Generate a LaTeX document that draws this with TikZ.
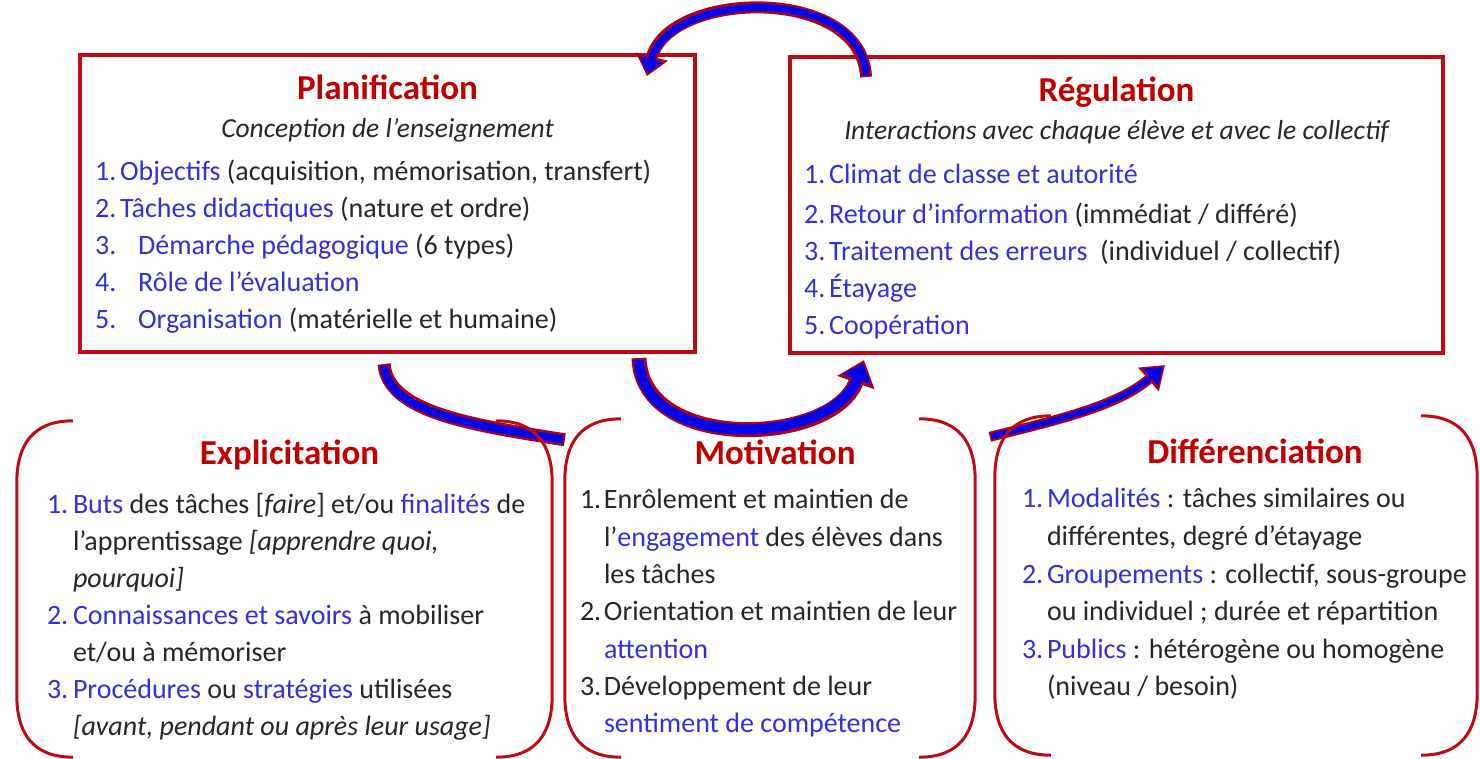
\documentclass[tikz,border=0pt]{standalone}
\usepackage{fontspec}
\setmainfont{Carlito}
\usetikzlibrary{calc,arrows.meta}
\definecolor{titred}{RGB}{192,0,0}
\definecolor{boxred}{RGB}{190,10,20}
\definecolor{itemblue}{RGB}{48,48,224}
\definecolor{textgray}{RGB}{38,38,38}
\definecolor{arrowblue}{RGB}{0,0,235}
\definecolor{arrowred}{RGB}{170,0,30}
\newcommand{\bl}[1]{\textcolor{itemblue}{#1}}
\newcommand{\bracketsbox}[1]{%
  \draw[bracket] ($(#1.north west)+(56,0)$) .. controls +(-40,0) and +(0,-38) .. ($(#1.north west)+(0,62)$)
    -- ($(#1.south west)+(0,-62)$) .. controls +(0,38) and +(-40,0) .. ($(#1.south west)+(56,0)$);
  \draw[bracket] ($(#1.north east)+(-56,0)$) .. controls +(40,0) and +(0,-38) .. ($(#1.north east)+(0,62)$)
    -- ($(#1.south east)+(0,-62)$) .. controls +(0,38) and +(40,0) .. ($(#1.south east)+(-56,0)$);}
\begin{document}
\begin{tikzpicture}[x=1pt,y=-1pt]
      \tikzstyle{main box}=[draw=boxred,line width=4pt,inner sep=0]
      \tikzstyle{free box}=[inner sep=0]
      \tikzstyle{title}=[anchor=base,inner sep=0,text=titred,font=\fontsize{35}{42}\selectfont\bfseries]
      \tikzstyle{subtitle}=[anchor=base,inner sep=0,text=textgray,font=\fontsize{27.5}{33}\selectfont\itshape]
      \tikzstyle{list}=[anchor=base west,inner sep=0,text=textgray,font=\fontsize{28}{37}\selectfont]
      \tikzstyle{bracket}=[draw=boxred,line width=3pt]
      \tikzstyle{arrow out}=[draw=arrowred]
      \tikzstyle{arrow in}=[draw=arrowblue]

      \useasboundingbox (0,0) rectangle (1480,758);

      % upper boxes
      \node(plan)[main box,minimum width=615pt,minimum height=297pt] at (387.5,203.5) {};
      \node[title] at ($(plan.north)+(0,46)$) {Planification};
      \node[subtitle] at ($(plan.north)+(0,84)$) {Conception de l’enseignement};
      \node(plan list)[list] at ($(plan.north west)+(17,127)$) {
        \begin{tabular}[t]{@{}p{25pt}@{}l@{}}
          \bl{1.} & \bl{Objectifs} (acquisition, mémorisation, transfert) \\
          \bl{2.} & \bl{Tâches didactiques} (nature et ordre) \\
          \bl{3.} & \hspace*{18pt}\bl{Démarche pédagogique} (6 types) \\
          \bl{4.} & \hspace*{18pt}\bl{Rôle de l’évaluation} \\
          \bl{5.} & \hspace*{18pt}\bl{Organisation} (matérielle et humaine) \\
        \end{tabular}
      };

      \node(reg)[main box,minimum width=653pt,minimum height=296pt] at (1116.5,205) {};
      \node[title] at ($(reg.north)+(0,46)$) {Régulation};
      \node[subtitle] at ($(reg.north)+(0,84)$) {Interactions avec chaque élève et avec le collectif};
      \node(reg list)[list] at ($(reg.north west)+(16,128)$) {
        \begin{tabular}[t]{@{}p{25pt}@{}l@{}}
          \bl{1.} & \bl{Climat de classe et autorité} \\[3pt]
          \bl{2.} & \bl{Retour d’information} (immédiat / différé) \\
          \bl{3.} & \bl{Traitement des erreurs}\ \ (individuel / collectif) \\
          \bl{4.} & \bl{Étayage} \\
          \bl{5.} & \bl{Coopération} \\
        \end{tabular}
      };

      % lower boxes
      \node(expl)[free box,minimum width=535pt,minimum height=336pt] at (284.5,589) {};
      \node[title] at ($(expl.north)+(5,44)$) {Explicitation};
      \node(expl list)[list] at ($(expl.north west)+(30,93)$) {
        \begin{tabular}[t]{@{}p{26pt}@{}l@{}}
          \bl{1.} & \bl{Buts} des tâches [\textit{faire}] et/ou \bl{finalités} de \\
                  & l’apprentissage \textit{[apprendre quoi,} \\
                  & \textit{pourquoi]} \\
          \bl{2.} & \bl{Connaissances et savoirs} à mobiliser \\
                  & et/ou à mémoriser \\
          \bl{3.} & \bl{Procédures} ou \bl{stratégies} utilisées \\
                  & \textit{[avant, pendant ou après leur usage]} \\
        \end{tabular}
      };

      \node(moti)[free box,minimum width=410pt,minimum height=338pt] at (770,588) {};
      \node[title] at ($(moti.north)+(5,46)$) {Motivation};
      \node(moti list)[list,font=\fontsize{28}{37.3}\selectfont] at ($(moti.north west)+(15,90)$) {
        \begin{tabular}[t]{@{}p{24pt}@{}l@{}}
          1. & Enrôlement et maintien de \\
             & l’\bl{engagement} des élèves dans \\
             & les tâches \\
          2. & Orientation et maintien de leur \\
             & \bl{attention} \\
          3. & Développement de leur \\
             & \bl{sentiment de compétence} \\
        \end{tabular}
      };

      \node(diff)[free box,minimum width=482pt,minimum height=339pt] at (1236,585.5) {};
      \node[title] at ($(diff.north)+(19,48)$) {Différenciation};
      \node(diff list)[list,font=\fontsize{28}{37.6}\selectfont] at ($(diff.north west)+(27,92)$) {
        \begin{tabular}[t]{@{}p{25pt}@{}l@{}}
          \bl{1.} & \bl{Modalités} : tâches similaires ou \\
                  & différentes, degré d’étayage \\
          \bl{2.} & \bl{Groupements} : collectif, sous-groupe \\
                  & ou individuel ; durée et répartition \\
          \bl{3.} & \bl{Publics} : hétérogène ou homogène \\
                  & (niveau / besoin) \\
        \end{tabular}
      };

      % arrows
      \draw[arrow out,line width=12pt,-{Triangle[length=20pt,width=32pt]}]
        ($(reg.north west)+(78,22)$) .. controls +(-4,-92) and +(22,-86) .. ($(plan.north east)+(-50,23)$);
      \draw[arrow in,line width=7pt,shorten <=2pt,shorten >=3pt,-{Triangle[length=14pt,width=23pt]}]
        ($(reg.north west)+(78,22)$) .. controls +(-4,-92) and +(22,-86) .. ($(plan.north east)+(-50,23)$);

      \draw[arrow out,line width=13pt]
        ($(plan.south west)+(306,10)$) .. controls +(4,48) and +(-95,-15) .. ($(moti.north west)+(0,21)$);
      \draw[arrow in,line width=8pt,shorten <=2pt,shorten >=2pt]
        ($(plan.south west)+(306,10)$) .. controls +(4,48) and +(-95,-15) .. ($(moti.north west)+(0,21)$);

      \draw[arrow out,line width=15pt,-{Triangle[length=24pt,width=38pt]}]
        ($(plan.south east)+(-58,4)$) .. controls +(3,95) and +(-31,86) .. ($(reg.south west)+(76,5)$);
      \draw[arrow in,line width=10pt,shorten <=2pt,shorten >=3.5pt,-{Triangle[length=17pt,width=29pt]}]
        ($(plan.south east)+(-58,4)$) .. controls +(3,95) and +(-31,86) .. ($(reg.south west)+(76,5)$);

      \draw[arrow out,line width=10pt,-{Triangle[length=22pt,width=30pt]}]
        ($(diff.north west)+(-5,21)$) .. controls +(60,-15) and +(-48,42) .. ($(reg.south east)+(-280,10)$);
      \draw[arrow in,line width=5.5pt,shorten <=2pt,shorten >=3pt,-{Triangle[length=16pt,width=22pt]}]
        ($(diff.north west)+(-5,21)$) .. controls +(60,-15) and +(-48,42) .. ($(reg.south east)+(-280,10)$);

      % brackets
      \bracketsbox{expl}
      \bracketsbox{moti}
      \bracketsbox{diff}
\end{tikzpicture}
\end{document}
